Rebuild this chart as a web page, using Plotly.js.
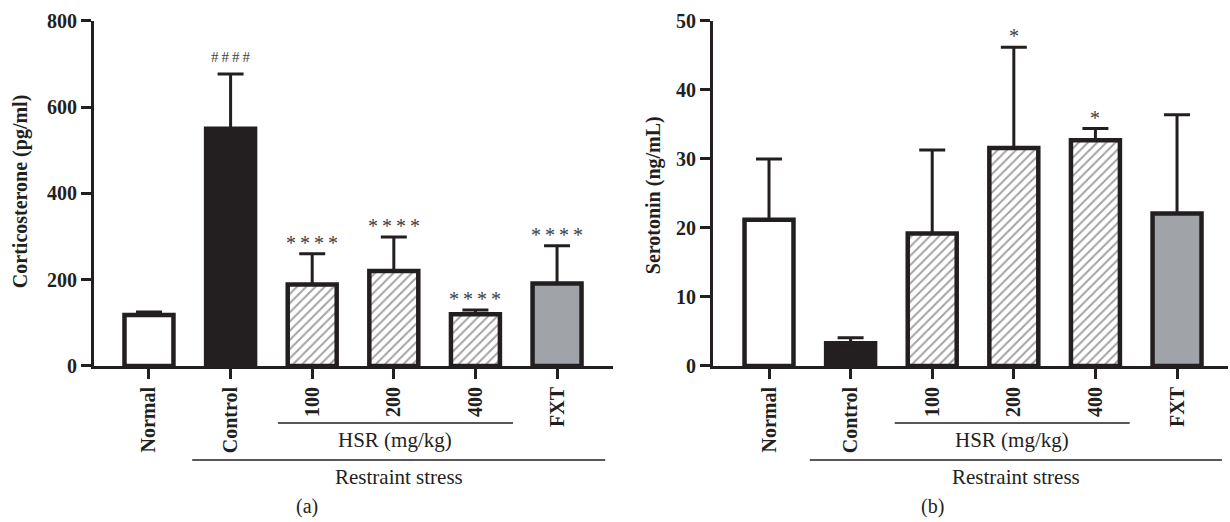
<!DOCTYPE html>
<html>
<head>
<meta charset="utf-8">
<script src="https://cdn.plot.ly/plotly-3.0.1.min.js"></script>
<style>html,body{margin:0;padding:0;background:#fff;}#chart{width:1230px;height:522px;}</style>
</head>
<body>
<div id="chart"></div>
<script>
// ---- data ----
const categories = ['Normal', 'Control', '100', '200', '400', 'FXT'];
const corticoMean = [118, 550, 189, 220, 120, 191];
const corticoErr  = [7, 127, 71, 79, 10, 88];
const corticoSig  = ['', '####', '****', '****', '****', '****'];
const serotoninMean = [21.2, 3.3, 19.2, 31.6, 32.7, 22.1];
const serotoninErr  = [8.8, 0.8, 12.1, 14.6, 1.7, 14.3];
const serotoninSig  = ['', '', '', '*', '*', ''];
const corticoTicks = [0, 200, 400, 600, 800];
const serotoninTicks = [0, 10, 20, 30, 40, 50];

// ---- styles ----
const INK = '#231f20';
const fills = ['#ffffff', INK, '#ffffff', '#ffffff', '#ffffff', '#a0a3a8'];
const hatch = ['', '', '/', '/', '/', ''];
const FONT = 'Liberation Serif, Times New Roman, serif';

function barTrace(y, err, xa, ya) {
  return {
    type: 'bar', x: categories, y: y, xaxis: xa, yaxis: ya,
    width: 0.6, cliponaxis: false,
    marker: {
      color: fills,
      line: {color: INK, width: 4.5},
      pattern: {shape: hatch, fgcolor: INK, bgcolor: '#ffffff', size: 6.5, solidity: 0.3, fillmode: 'overlay'}
    },
    error_y: {type: 'data', symmetric: false, array: err, arrayminus: err.map(() => 0),
              color: INK, thickness: 3, width: 13},
    hoverinfo: 'skip'
  };
}

function spaced(s) { return s.split('').join('\u2009'); }

const annotations = [];
function sigAnn(sig, mean, err, xref, yref) {
  sig.forEach((s, i) => {
    if (!s) return;
    const isHash = s[0] === '#';
    annotations.push({
      xref: xref, yref: yref, x: i, y: mean[i] + err[i],
      text: spaced(s), showarrow: false, yanchor: 'middle', xanchor: 'center',
      yshift: isHash ? 17 : 11,
      font: {family: FONT, size: isHash ? 15 : 20, color: '#404040'}
    });
  });
}
sigAnn(corticoSig, corticoMean, corticoErr, 'x', 'y');
sigAnn(serotoninSig, serotoninMean, serotoninErr, 'x2', 'y2');

// y axis titles
annotations.push({xref: 'paper', yref: 'paper', x: 0.0163, y: 0.632, xanchor: 'center', yanchor: 'middle',
  text: 'Corticosterone (pg/ml)', textangle: -90, showarrow: false,
  font: {family: FONT, size: 20, color: INK, weight: 'bold'}});
annotations.push({xref: 'paper', yref: 'paper', x: 0.5309, y: 0.626, xanchor: 'center', yanchor: 'middle',
  text: 'Serotonin (ng/mL)', textangle: -90, showarrow: false,
  font: {family: FONT, size: 20, color: INK, weight: 'bold'}});

// group labels
const shapes = [];
[['x', 'a'], ['x2', 'b']].forEach(([xr, tag], k) => {
  const hsr = k === 0 ? [1.58, 4.46] : [1.54, 4.42];
  const rs = k === 0 ? [0.53, 5.59] : [0.50, 5.55];
  shapes.push({type: 'line', xref: xr, yref: 'paper', x0: hsr[0], x1: hsr[1], y0: 0.1897, y1: 0.1897, line: {color: INK, width: 1.5}});
  shapes.push({type: 'line', xref: xr, yref: 'paper', x0: rs[0], x1: rs[1], y0: 0.1188, y1: 0.1188, line: {color: INK, width: 1.5}});
  annotations.push({xref: xr, yref: 'paper', x: (hsr[0] + hsr[1]) / 2, y: 0.157, xanchor: 'center', yanchor: 'middle',
    text: 'HSR (mg/kg)', showarrow: false, font: {family: FONT, size: 21, color: INK}});
  annotations.push({xref: xr, yref: 'paper', x: (rs[0] + rs[1]) / 2, y: 0.0862, xanchor: 'center', yanchor: 'middle',
    text: 'Restraint stress', showarrow: false, font: {family: FONT, size: 21, color: INK}});
  annotations.push({xref: 'paper', yref: 'paper', x: k === 0 ? 0.2496 : 0.7585, y: 0.004, xanchor: 'center', yanchor: 'bottom',
    text: '(' + tag + ')', showarrow: false, font: {family: FONT, size: 20, color: INK}});
});

const xBase = {
  type: 'category', showline: true, linecolor: INK, linewidth: 3, ticks: 'outside', ticklen: 10,
  tickwidth: 3, tickcolor: INK, tickangle: -90, showgrid: false, zeroline: false, fixedrange: true,
  tickfont: {family: FONT, size: 20, color: INK, weight: 'bold'}
};
const yBase = {
  showline: true, linecolor: INK, linewidth: 3, ticks: 'outside', ticklen: 10, tickwidth: 3,
  tickcolor: INK, showgrid: false, zeroline: false, fixedrange: true, tickmode: 'array',
  tickfont: {family: FONT, size: 20, color: INK, weight: 'bold'}
};

const layout = {
  width: 1230, height: 522, margin: {l: 0, r: 0, t: 0, b: 0},
  paper_bgcolor: '#ffffff', plot_bgcolor: '#ffffff', showlegend: false,
  xaxis: Object.assign({}, xBase, {domain: [0.0764, 0.4984], range: [-0.674, 5.686], anchor: 'y'}),
  yaxis: Object.assign({}, yBase, {domain: [0.2989, 0.9598], range: [0, 800], tickvals: corticoTicks, anchor: 'x'}),
  xaxis2: Object.assign({}, xBase, {domain: [0.5797, 0.9984], range: [-0.686, 5.625], anchor: 'y2'}),
  yaxis2: Object.assign({}, yBase, {domain: [0.2989, 0.9598], range: [0, 50], tickvals: serotoninTicks, anchor: 'x2'}),
  annotations: annotations, shapes: shapes
};

Plotly.newPlot('chart', [
  barTrace(corticoMean, corticoErr, 'x', 'y'),
  barTrace(serotoninMean, serotoninErr, 'x2', 'y2')
], layout, {staticPlot: true, displayModeBar: false});
</script>
</body>
</html>
